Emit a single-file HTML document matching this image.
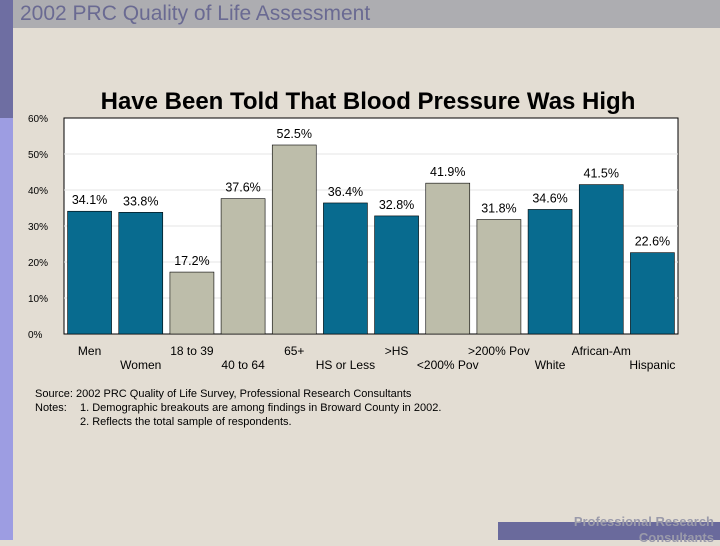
<!DOCTYPE html>
<html><head><meta charset="utf-8"><style>
body{margin:0;width:720px;height:540px;overflow:hidden;background:#e3ddd3;font-family:"Liberation Sans",sans-serif;position:relative}
div{position:absolute}
</style></head><body>
<div style="left:0;top:0;width:13px;height:118px;background:#6e6ea2"></div>
<div style="left:0;top:118px;width:13px;height:422px;background:#9d9de2"></div>
<div style="left:13px;top:0;width:707px;height:28px;background:#adadb1"></div>
<div style="left:20px;top:2px;font-size:21px;color:#6a6a92">2002 PRC Quality of Life Assessment</div>
<div style="left:498px;top:522px;width:222px;height:18px;background:#6a6a9c"></div>
<div style="left:500px;top:514px;width:214px;text-align:right;font-size:13px;font-weight:bold;color:#9a9aaa;line-height:16px">Professional Research<br>Consultants</div>
<svg width="720" height="540" style="position:absolute;left:0;top:0">
<text x="368" y="109" text-anchor="middle" font-size="24" font-weight="bold" fill="#000">Have Been Told That Blood Pressure Was High</text>
<rect x="64" y="118" width="614" height="216" fill="#fff" stroke="#000" stroke-width="1"/>
<g id="grid"></g><g id="bars"></g><g id="labels"></g>
<text x="35" y="397" font-size="11">Source: 2002 PRC Quality of Life Survey, Professional Research Consultants</text>
<text x="35" y="411" font-size="11">Notes:<tspan x="80">1. Demographic breakouts are among findings in Broward County in 2002.</tspan></text>
<text x="80" y="425" font-size="11">2. Reflects the total sample of respondents.</text>
</svg>
<script>
const categories=["Men","Women","18 to 39","40 to 64","65+","HS or Less",">HS","<200% Pov",">200% Pov","White","African-Am","Hispanic"];
const values=[34.1,33.8,17.2,37.6,52.5,36.4,32.8,41.9,31.8,34.6,41.5,22.6];
const groups=[0,0,1,1,1,0,0,1,1,0,0,0];
const ticks=[0,10,20,30,40,50,60];
const NS="http://www.w3.org/2000/svg";
const x0=64,w=614,y0=334,h=216,ymax=60;
const y=v=>y0-v/ymax*h;
const step=w/categories.length;
const g=document.getElementById('grid'),b=document.getElementById('bars'),l=document.getElementById('labels');
function mk(tag,a,p,t){const e=document.createElementNS(NS,tag);for(const k in a)e.setAttribute(k,a[k]);if(t!=null)e.textContent=t;p.appendChild(e);return e;}
ticks.forEach(t=>{
 if(t>0&&t<60){const ln=mk('line',{x1:x0,x2:x0+w,y1:y(t),y2:y(t),stroke:'#e4e4e4'},g);
 
 }
 const tx=mk('text',{x:28,y:y(t)+4,'font-size':10,fill:'#000'},g,t+'%');
 
 
});
categories.forEach((c,i)=>{
 const cx=x0+step*(i+0.5);
 const r=mk('rect',{x:cx-22,y:y(values[i]),width:44,height:y0-y(values[i]),fill:groups[i]?'#bdbdaa':'#086b8f',stroke:'#000','stroke-width':0.6},b);
 
 
 const v=mk('text',{x:cx,y:y(values[i])-7,'text-anchor':'middle','font-size':12.5},l,values[i].toFixed(1)+'%');
 
 
 const cl=mk('text',{x:cx,y:i%2?369:355,'text-anchor':'middle','font-size':12},l,c);
 
 
});
</script>
</body></html>
